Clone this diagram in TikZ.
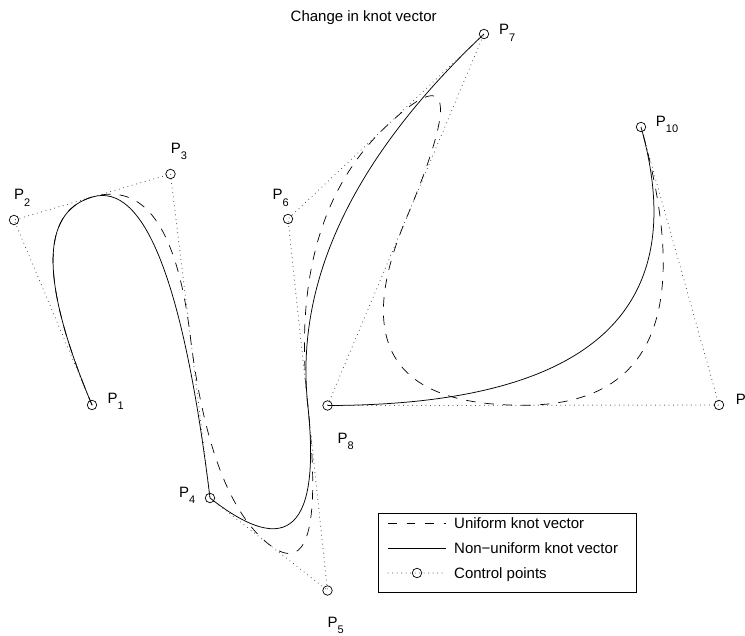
\documentclass[tikz,border=0pt]{standalone}
\usepackage{fontspec}
\setmainfont{Liberation Sans}
\usetikzlibrary{calc}
\newcommand{\plab}[1]{P\raisebox{-6.3pt}{\fontsize{11}{11}\selectfont #1}}
\begin{document}
\begin{tikzpicture}[x=1pt,y=-1pt,
  ctrlpt/.style={circle, draw, line width=0.7pt, minimum size=9.5pt, inner sep=0pt},
  poly/.style={line width=1pt, black!80, line cap=round, dash pattern=on 0pt off 4.5pt},
  unif/.style={line width=0.7pt, dash pattern=on 9.5pt off 9pt},
  nonunif/.style={line width=0.75pt},
  lab/.style={anchor=base west, inner sep=0pt, font=\fontsize{15}{18}\selectfont},
  qbez/.style={to path={.. controls ($(\tikztostart)!2/3!(#1)$) and ($(\tikztotarget)!2/3!(#1)$) .. (\tikztotarget)}}]
\useasboundingbox (0,0) rectangle (745,636);
% control points
\coordinate (q0) at (92,405);
\coordinate (q1) at (14,220);
\coordinate (q2) at (170.5,174);
\coordinate (q3) at (210,498);
\coordinate (q4) at (327.5,590.5);
\coordinate (q5) at (288,219);
\coordinate (q6) at (484,34);
\coordinate (q7) at (327.5,405.5);
\coordinate (q8) at (719,405);
\coordinate (q9) at (641,127);
% midpoints of the legs
\coordinate (m12) at ($(q1)!0.5!(q2)$);
\coordinate (m23) at ($(q2)!0.5!(q3)$);
\coordinate (m34) at ($(q3)!0.5!(q4)$);
\coordinate (m45) at ($(q4)!0.5!(q5)$);
\coordinate (m56) at ($(q5)!0.5!(q6)$);
\coordinate (m67) at ($(q6)!0.5!(q7)$);
\coordinate (m78) at ($(q7)!0.5!(q8)$);
% uniform knot vector (quadratic B-spline)
\draw[unif] (q0) to[qbez=q1] (m12) to[qbez=q2] (m23) to[qbez=q3] (m34)
  to[qbez=q4] (m45) to[qbez=q5] (m56) to[qbez=q6] (m67) to[qbez=q7] (m78)
  to[qbez=q8] (q9);
% non-uniform knot vector
\draw[nonunif] (q0) to[qbez=q1] (m12) to[qbez=q2] (q3) to[qbez=q4] (m45) to[qbez=q5] (q6);
\draw[nonunif] (q7) to[qbez=q8] (q9);
% control polygon
\draw[poly] (q0) -- (q1) -- (q2) -- (q3) -- (q4) -- (q5) -- (q6) -- (q7) -- (q8) -- (q9);
\foreach \i in {0,...,9} { \node[ctrlpt] (c\i) at (q\i) {}; }
% labels
\node[lab] (t1) at (107.3,403.3) {\plab{1}};
\node[lab] (t2) at (14,200) {\plab{2}};
\node[lab] (t3) at (170.7,153.3) {\plab{3}};
\node[lab] (t4) at (179,497) {\plab{4}};
\node[lab] (t5) at (327.3,627) {\plab{5}};
\node[lab] (t6) at (272.3,200) {\plab{6}};
\node[lab] (t7) at (499,35) {\plab{7}};
\node[lab] (t8) at (337.3,443.3) {\plab{8}};
\node[lab] (t9) at (735.7,405) {\plab{9}};
\node[lab] (t10) at (655.7,126.7) {\plab{10}};
% title
\node[lab] (title) at (290.5,21.5) {Change in knot vector};
% legend
\draw[line width=0.7pt, fill=white] (378,513) rectangle (636,592);
\coordinate (l1a) at (388,523); \coordinate (l1b) at (446,523);
\coordinate (l2a) at (388,548); \coordinate (l2b) at (446,548);
\coordinate (l3a) at (388,573); \coordinate (l3b) at (446,573);
\draw[line width=0.7pt, dash pattern=on 8.5pt off 10pt] (l1a) -- (l1b);
\draw[nonunif] (l2a) -- (l2b);
\draw[poly] (l3a) -- (l3b);
\node[ctrlpt] (lc) at ($(l3a)!0.5!(l3b)$) {};
\node[lab] (e1) at (454,528.3) {Uniform knot vector};
\node[lab] (e2) at (454,553.3) {Non\textminus uniform knot vector};
\node[lab] (e3) at (454,578.3) {Control points};
\end{tikzpicture}
\end{document}
